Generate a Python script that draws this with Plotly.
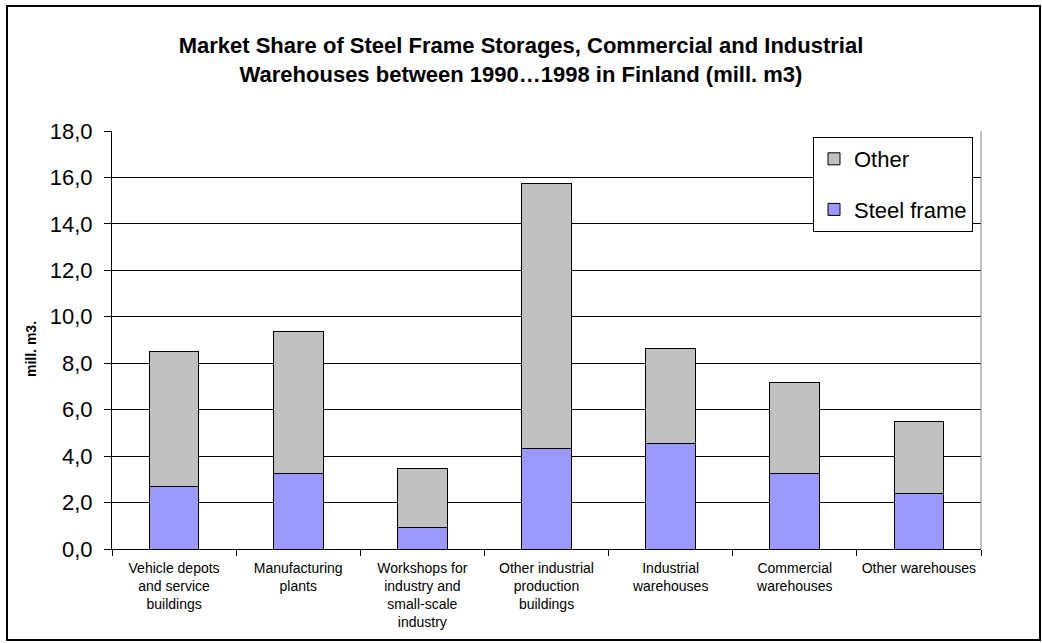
import plotly.graph_objects as go

# Building types (x categories) and volumes in mill. m3
categories = [
    "Vehicle depots<br>and service<br>buildings",
    "Manufacturing<br>plants",
    "Workshops for<br>industry and<br>small-scale<br>industry",
    "Other industrial<br>production<br>buildings",
    "Industrial<br>warehouses",
    "Commercial<br>warehouses",
    "Other warehouses",
]
steel_frame = [2.71, 3.26, 0.92, 4.32, 4.55, 3.26, 2.37]
other = [5.79, 6.10, 2.56, 11.43, 4.09, 3.90, 3.10]

y_ticks = [0, 2, 4, 6, 8, 10, 12, 14, 16, 18]

W, H = 1042, 643
ML, MR, MT, MB = 112, 61, 131, 94
PW, PH = W - ML - MR, H - MT - MB


def px_x(p):
    return (p - ML) / PW


def px_y(p):
    return (H - MB - p) / PH


FONT = "Liberation Sans, Arial, sans-serif"

fig = go.Figure()
fig.add_trace(go.Bar(
    x=categories, y=steel_frame, name="Steel frame",
    marker=dict(color="#9999FF", line=dict(color="#000000", width=1)),
    legendgroup="steel", legendrank=2,
))
fig.add_trace(go.Bar(
    x=categories, y=other, name="Other",
    marker=dict(color="#C0C0C0", line=dict(color="#000000", width=1)),
    legendgroup="other", legendrank=1,
))

fig.update_layout(
    width=W, height=H,
    barmode="stack", bargap=0.6,
    paper_bgcolor="white", plot_bgcolor="white",
    separators=", ",
    font=dict(family=FONT, color="#000000"),
    margin=dict(l=ML, r=MR, t=MT, b=MB, autoexpand=False),
    title=dict(
        text="Market Share of Steel Frame Storages, Commercial and Industrial<br>"
             "Warehouses between 1990\u20261998 in Finland (mill. m3)",
        x=0.5, xref="container", xanchor="center",
        y=1 - 53 / H, yref="container", yanchor="middle",
        font=dict(size=22, family=FONT, color="#000000", weight="bold"),
    ),
    legend=dict(
        x=px_x(813), y=px_y(137), xanchor="left", yanchor="top",
        traceorder="grouped", tracegroupgap=19,
        bgcolor="white", bordercolor="#000000", borderwidth=1,
        font=dict(size=22, family=FONT, color="#000000"),
    ),
    xaxis=dict(
        type="category",
        showline=True, linecolor="#000000", linewidth=1,
        ticks="outside", tickson="boundaries", ticklen=6, tickcolor="#000000",
        tickfont=dict(size=14, family=FONT, color="#000000"),
        ticklabelstandoff=6,
        showgrid=False, zeroline=False,
    ),
    yaxis=dict(
        range=[0, 18], tickvals=y_ticks, tickformat=".1f",
        showline=True, linecolor="#000000", linewidth=1,
        ticks="outside", ticklen=7, tickcolor="#000000",
        tickfont=dict(size=22, family=FONT, color="#000000"),
        ticklabelstandoff=7,
        showgrid=True, gridcolor="#000000", gridwidth=1,
        zeroline=False,
    ),
    showlegend=True,
)

# y-axis caption
fig.add_annotation(
    text="<b>mill. m3.</b>", textangle=-90,
    x=px_x(34), y=px_y(349), xref="paper", yref="paper",
    xanchor="center", yanchor="middle", xshift=-3,
    showarrow=False, font=dict(size=14, family=FONT, color="#000000"),
)

# grey right edge of the plot area
fig.add_shape(type="line", xref="paper", yref="paper", x0=1, x1=1, y0=0, y1=1,
              line=dict(color="#808080", width=1))

# chart frame
fig.add_shape(type="rect", xref="paper", yref="paper",
              x0=px_x(7), x1=px_x(1040), y0=px_y(640), y1=px_y(6),
              line=dict(color="#000000", width=2), layer="below")

fig.write_html("out.html")
